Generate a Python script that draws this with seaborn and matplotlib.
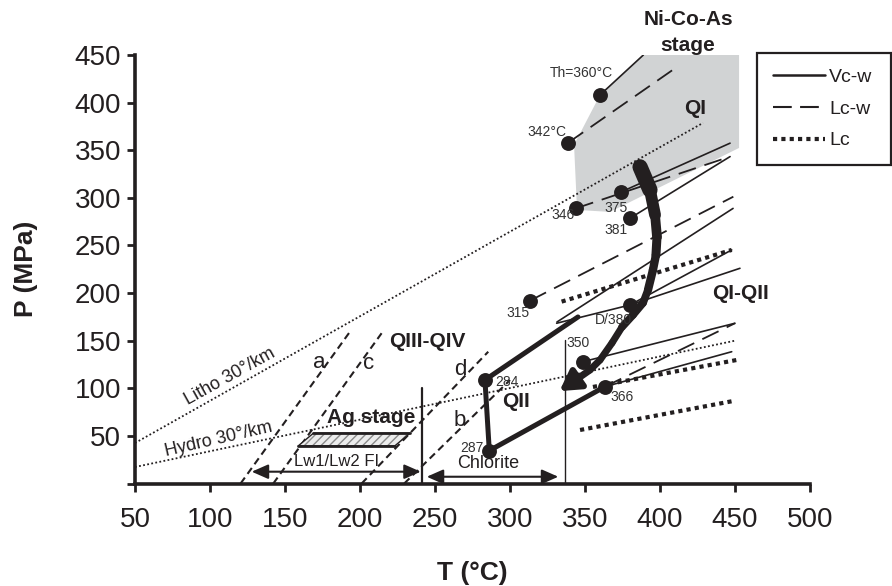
import matplotlib
matplotlib.use("Agg")
import matplotlib.pyplot as plt
import seaborn as sns
import numpy as np
import pandas as pd
from matplotlib.lines import Line2D

# ---------------- data ----------------
x_ticks = [50, 100, 150, 200, 250, 300, 350, 400, 450, 500]
y_ticks = [0, 50, 100, 150, 200, 250, 300, 350, 400, 450]
y_tick_labels = ["", "50", "100", "150", "200", "250", "300", "350", "400", "450"]

# Ni-Co-As stage field (grey)
field_T = [388.7, 452.7, 452.7, 366.7, 344.7, 342.7, 360.0]
field_P = [450.0, 450.0, 352.4, 285.2, 287.3, 355.6, 408.0]

# fluid inclusion points
pt_T = [360.0, 338.9, 344.0, 373.8, 380.0, 313.3, 380.0, 348.9, 363.3, 283.3, 286.2]
pt_P = [408.0, 358.0, 289.0, 306.0, 278.6, 192.0, 187.5, 128.0, 101.7, 108.7, 34.5]
pt_labels = ["Th=360°C", "342°C", "346", "375", "381", "315", "D/380", "350", "366", "284", "287"]
lab_T = [347.5, 324.4, 335.5, 370.7, 370.7, 305.3, 368.7, 345.5, 374.4, 297.8, 274.4]
lab_P = [431.0, 369.5, 282.0, 289.0, 266.0, 179.0, 171.7, 147.6, 91.2, 107.0, 37.0]

# isochores Vc-w (solid)
vcw_T = [[360.0, 388.9], [373.8, 446.7], [380.0, 446.7], [331.3, 448.7],
         [331.1, 380.0, 453.3], [380.0, 447.8], [348.9, 450.0], [363.3, 447.8]]
vcw_P = [[408.0, 450.0], [306.0, 357.4], [278.6, 343.3], [169.6, 288.9],
         [168.3, 187.5, 226.0], [187.5, 245.3], [128.0, 168.3], [101.7, 138.4]]

# isochores Lc-w (long dashes)
lcw_T = [[338.9, 410.0], [344.0, 446.7], [313.3, 448.9], [363.3, 450.0]]
lcw_P = [[358.0, 436.0], [289.0, 343.3], [192.0, 301.2], [101.7, 168.3]]

# isochores Lc (heavy dotted)
lc_T = [[334.4, 447.8], [355.3, 451.1], [346.7, 450.0]]
lc_P = [[191.0, 245.3], [101.4, 129.7], [56.2, 87.0]]

# steep isochores a, c, d, b (QIII-QIV)
steep_names = ["a", "c", "d", "b"]
steep_T = [[120.4, 193.3], [142.2, 214.4], [201.1, 285.5], [229.5, 300.0]]
steep_P = [[0.0, 159.4], [0.0, 157.8], [0.0, 138.4], [0.0, 108.7]]
steep_lab_T = [172.9, 205.5, 266.7, 266.2]
steep_lab_P = [126.9, 126.3, 119.2, 66.0]

# geotherms
litho_T = [50.0, 428.7]
litho_P = [42.5, 378.7]
hydro_T = [50.0, 450.0]
hydro_P = [17.3, 150.0]

# QII path (thick)
qii_T = [345.3, 283.3, 286.2, 363.3]
qii_P = [174.9, 108.7, 34.5, 101.7]

# Ag stage box
ag_T = [158.9, 223.3, 233.3, 168.9]
ag_P = [39.6, 39.6, 52.8, 52.8]

# ranges (double arrows) and vertical bars
lw_range_T = [127.8, 240.5]
lw_range_P = 12.4
chl_range_T = [244.5, 332.2]
chl_range_P = 7.1
vbar_T = [241.5, 336.7]
vbar_Ptop = [100.0, 150.6]

# big curved evolution arrow (centre line) and its widths (pt)
arrow_T = [386.7, 393.3, 396.7, 398.0, 397.3, 395.3, 392.0, 388.7, 382.0, 374.7, 368.0, 360.0, 353.3, 346.7]
arrow_P = [332.5, 308.3, 282.0, 258.9, 240.0, 224.3, 203.3, 189.6, 177.0, 164.4, 147.6, 129.7, 119.2, 111.9]
arrow_W = [11.0, 8.5, 7.0, 6.5, 6.0, 6.0, 5.5, 5.5, 5.5, 5.0, 5.0, 5.0, 5.0]
arrow_tip = (333.0, 97.0)

# ---------------- style ----------------
sns.set_style("ticks")
plt.rcParams["font.family"] = ["Liberation Sans", "DejaVu Sans"]
INK = "#231f20"

fig = plt.figure(figsize=(8.92, 5.86), dpi=100)
ax = fig.add_axes([135 / 892, 1 - 483.5 / 586, 675 / 892, 428.5 / 586])
ax.set_xlim(50, 500)
ax.set_ylim(0, 450)

# grey field
ax.fill(field_T, field_P, color="#d1d3d4", lw=0, zorder=1)

def sline(T, P, **kw):
    df = pd.DataFrame({"T": T, "P": P})
    sns.lineplot(data=df, x="T", y="P", ax=ax, estimator=None, sort=False,
                 color=INK, **kw)

# geotherms
sline(litho_T, litho_P, lw=1.3, linestyle=(0, (1, 1.3)), zorder=2)
sline(hydro_T, hydro_P, lw=1.3, linestyle=(0, (1, 1.3)), zorder=2)

# steep dashed
for T, P in zip(steep_T, steep_P):
    sline(T, P, lw=1.5, linestyle=(0, (3.5, 2.2)), zorder=3)
for n, t, p in zip(steep_names, steep_lab_T, steep_lab_P):
    ax.text(t, p, n, fontsize=16, ha="center", va="center", color=INK, zorder=6)

# Vc-w
for T, P in zip(vcw_T, vcw_P):
    sline(T, P, lw=1.2, zorder=3)
# Lc-w
for T, P in zip(lcw_T, lcw_P):
    sline(T, P, lw=1.3, linestyle=(0, (10, 5)), zorder=3)
# Lc
for T, P in zip(lc_T, lc_P):
    sline(T, P, lw=3.0, linestyle=(0, (1, 1)), zorder=3)

# QII thick path
sline(qii_T, qii_P, lw=3.6, zorder=4)

# Ag box
ax.fill(ag_T, ag_P, facecolor="#ececec", edgecolor="#8a8a8a", hatch="////", lw=0, zorder=3)
ax.plot(ag_T + ag_T[:1], ag_P + ag_P[:1], color=INK, lw=1.0, zorder=4)
ax.plot(ag_T[:2], ag_P[:2], color=INK, lw=2.0, zorder=4)
ax.plot(ag_T[2:], ag_P[2:], color=INK, lw=2.0, zorder=4)

# vertical bars
ax.plot([vbar_T[0], vbar_T[0]], [0, vbar_Ptop[0]], color=INK, lw=1.6, zorder=4)
ax.plot([vbar_T[1], vbar_T[1]], [0, vbar_Ptop[1]], color=INK, lw=1.0, zorder=4)

# range arrows
for T, P in ((lw_range_T, lw_range_P), (chl_range_T, chl_range_P)):
    ax.annotate("", xy=(T[1], P), xytext=(T[0], P),
                arrowprops=dict(arrowstyle="<|-|>,head_length=0.5,head_width=0.22",
                                mutation_scale=20, color=INK, lw=1.5,
                                shrinkA=0, shrinkB=0), zorder=5)

# big curved arrow
for i in range(len(arrow_T) - 1):
    ax.plot(arrow_T[i:i + 2], arrow_P[i:i + 2], color=INK, lw=arrow_W[i],
            solid_capstyle="round", zorder=5)
ax.annotate("", xy=arrow_tip, xytext=(arrow_T[-1], arrow_P[-1]),
            arrowprops=dict(arrowstyle="-|>,head_length=0.6,head_width=0.35",
                            mutation_scale=20, color=INK, lw=4.5,
                            shrinkA=0, shrinkB=0), zorder=5)

# points
sns.scatterplot(x=pt_T, y=pt_P, ax=ax, s=115, color=INK, edgecolor=INK,
                linewidth=0, zorder=6, legend=False)
for s, t, p in zip(pt_labels, lab_T, lab_P):
    ax.text(t, p, s, fontsize=10, ha="center", va="center", color="#333333", zorder=7)

# region labels
bold = dict(fontsize=15, fontweight="bold", ha="center", va="center", color=INK, zorder=7)
ax.text(418.7, 474.0, "Ni-Co-As\nstage", linespacing=1.45, clip_on=False, **bold)
ax.text(423.3, 394.0, "QI", **bold)
ax.text(453.5, 200.0, "QI-QII", **bold)
ax.text(245.0, 149.0, "QIII-QIV", **bold)
ax.text(304.0, 86.0, "QII", **bold)
ax.text(207.3, 68.8, "Ag stage", **bold)
ax.text(184.4, 22.9, "Lw1/Lw2 FI", fontsize=12, ha="center", va="center", color=INK)
ax.text(285.6, 21.2, "Chlorite", fontsize=13, ha="center", va="center", color=INK)
ax.text(113.3, 112.2, "Litho 30°/km", fontsize=13, rotation=29, ha="center", va="center", color=INK)
ax.text(105.5, 46.5, "Hydro 30°/km", fontsize=13, rotation=13, ha="center", va="center", color=INK)

# axes cosmetics
ax.set_xticks(x_ticks)
ax.set_yticks(y_ticks)
ax.set_yticklabels(y_tick_labels)
ax.tick_params(axis="both", labelsize=20, length=6, width=2, colors=INK, direction="out")
ax.tick_params(axis="x", pad=11)
ax.tick_params(axis="y", pad=4)
for side in ("top", "right"):
    ax.spines[side].set_visible(False)
for side in ("left", "bottom"):
    ax.spines[side].set_linewidth(2.6)
    ax.spines[side].set_color(INK)
ax.set_xlabel("T (°C)", fontsize=19, fontweight="bold", color=INK, labelpad=20)
ax.set_ylabel("P (MPa)", fontsize=19, fontweight="bold", color=INK, labelpad=26)

# legend
handles = [Line2D([], [], color=INK, lw=1.8),
           Line2D([], [], color=INK, lw=1.5, linestyle=(0, (9, 4, 9, 4, 1.5, 4))),
           Line2D([], [], color=INK, lw=3.0, linestyle=(0, (1, 1)))]
leg = fig.legend(handles, ["Vc-w", "Lc-w", "Lc"], loc="upper left",
                 bbox_to_anchor=(757 / 892, 1 - 163 / 586, 134 / 892, 110 / 586),
                 mode="expand", borderaxespad=0,
                 frameon=True, fancybox=False, edgecolor=INK, framealpha=1,
                 fontsize=14, handlelength=2.7, handletextpad=0.2,
                 borderpad=0.8, labelspacing=0.72)
leg.get_frame().set_linewidth(1.6)
for t in leg.get_texts():
    t.set_color(INK)

fig.savefig("out.png", dpi=100)
